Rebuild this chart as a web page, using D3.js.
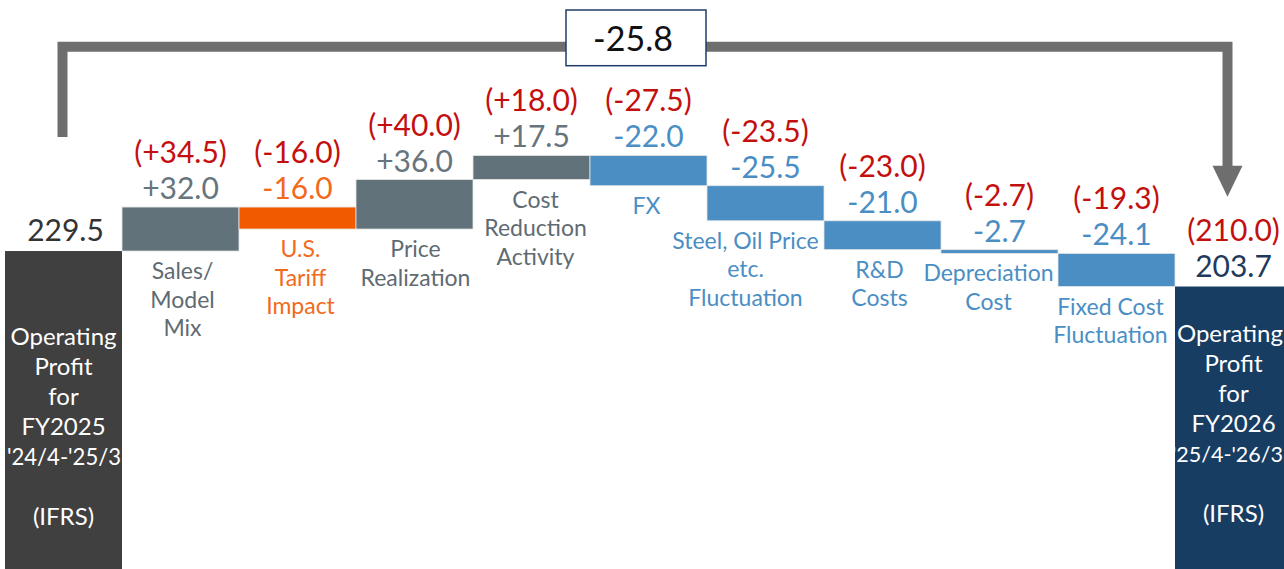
<!DOCTYPE html>
<html>
<head>
<meta charset="utf-8">
<script src="https://cdn.jsdelivr.net/npm/d3@7/dist/d3.min.js"></script>
<style>
  html, body { margin: 0; padding: 0; background: #fff; }
  svg { display: block; font-family: Lato, "Noto Sans", sans-serif; font-weight: 400; }
</style>
</head>
<body>
<svg id="chart" width="1284" height="569"></svg>
<script>
// ---------------- DATA ----------------
const categories = ["FY2025", "Sales/Model Mix", "U.S. Tariff Impact", "Price Realization",
  "Cost Reduction Activity", "FX", "Steel, Oil Price etc. Fluctuation", "R&D Costs",
  "Depreciation Cost", "Fixed Cost Fluctuation", "FY2026"];
const values = [229.5, 32.0, -16.0, 36.0, 17.5, -22.0, -25.5, -21.0, -2.7, -24.1, 203.7];
const forecastValues = [null, 34.5, -16.0, 40.0, 18.0, -27.5, -23.5, -23.0, -2.7, -19.3, 210.0];
const kinds = ["total", "pos", "tariff", "pos", "pos", "neg", "neg", "neg", "neg", "neg", "total2"];
const categoryLines = [
  ["Operating", "Profit", "for", "FY2025", "'24/4-'25/3", "", "(IFRS)"],
  ["Sales/", "Model", "Mix"],
  ["U.S.", "Tariff", "Impact"],
  ["Price", "Realization"],
  ["Cost", "Reduction", "Activity"],
  ["FX"],
  ["Steel, Oil Price", "etc.", "Fluctuation"],
  ["R&D", "Costs"],
  ["Depreciation", "Cost"],
  ["Fixed Cost", "Fluctuation"],
  ["Operating", "Profit", "for", "FY2026", "('25/4-'26/3", "", "(IFRS)"]
];
const totalChange = -25.8;

// ---------------- STYLE ----------------
const barColor = { total: "#404040", pos: "#62727b", tariff: "#f25a00", neg: "#4a8ec4", total2: "#173d63" };
const valueColor = { total: "#333333", pos: "#66747d", tariff: "#f26a1b", neg: "#4a8ec4", total2: "#1f3a5c" };
const labelColor = { pos: "#5f6b73", tariff: "#f26a1b", neg: "#4a8ec4" };
const red = "#c40f0f";
const bracketColor = "#6e6e6e";
// horizontal nudges of the category text boxes (layout only)
const labelNudge = [0, 2, 3, 1, 4, -2, -20, -3, -11, -6, 0];

// ---------------- LAYOUT ----------------
const svg = d3.select("#chart");
const W = 1284, H = 569;

const x = d3.scaleBand().domain(categories).range([5, 5 + 117 * categories.length]).padding(0);
const y = d3.scaleLinear().domain([0, 320]).range([566.6, 566.6 - 320 * 1.375]);

// waterfall computation
let running = 0;
const bars = categories.map((c, i) => {
  const v = values[i];
  let y0, y1;
  if (kinds[i].startsWith("total")) { y0 = 0; y1 = v; running = v; }
  else { y0 = running; y1 = running + v; running = y1; }
  return { cat: c, i, v, lo: Math.min(y0, y1), hi: Math.max(y0, y1), kind: kinds[i], fc: forecastValues[i] };
});

const fmt = v => (v > 0 ? "+" : "") + v.toFixed(1);
const fmtTotal = v => v.toFixed(1);
const fmtFc = (v, total) => "(" + (total ? v.toFixed(1) : (v > 0 ? "+" : "") + v.toFixed(1)) + ")";

// bars
svg.append("g").selectAll("rect").data(bars).join("rect")
  .attr("x", d => x(d.cat))
  .attr("y", d => y(d.hi))
  .attr("width", x.bandwidth())
  .attr("height", d => d.kind.startsWith("total") ? (H - y(d.hi) + 5) : Math.max(1, y(d.lo) - y(d.hi)))
  .attr("fill", d => barColor[d.kind])
  .attr("stroke", d => d.kind.startsWith("total") ? "none" : "#e6e6e6")
  .attr("stroke-width", 0.8);

// value labels
const valueFont = 30;
svg.append("g").selectAll("text").data(bars).join("text")
  .attr("x", d => x(d.cat) + x.bandwidth() / 2 + (d.kind === "total" ? 2 : 0))
  .attr("y", d => y(d.hi) - (d.kind.startsWith("total") ? 10 : 8))
  .attr("text-anchor", "middle")
  .attr("font-size", valueFont)
  .attr("fill", d => valueColor[d.kind])
  .text(d => d.kind.startsWith("total") ? fmtTotal(d.v) : fmt(d.v));

// forecast labels (red, in parentheses)
svg.append("g").selectAll("text").data(bars.filter(d => d.fc !== null)).join("text")
  .attr("x", d => x(d.cat) + x.bandwidth() / 2)
  .attr("y", d => y(d.hi) - (d.kind.startsWith("total") ? 10 : 8) - 36)
  .attr("text-anchor", "middle")
  .attr("font-size", valueFont)
  .attr("fill", red)
  .text(d => fmtFc(d.fc, d.kind.startsWith("total")));

// category labels below change bars
const catFont = 23, lineH = 28.5;
bars.filter(d => !d.kind.startsWith("total")).forEach(d => {
  const cx = x(d.cat) + x.bandwidth() / 2 + labelNudge[d.i];
  const t = svg.append("text")
    .attr("x", cx)
    .attr("y", y(d.lo) + 28)
    .attr("text-anchor", "middle")
    .attr("font-size", catFont)
    .attr("fill", labelColor[d.kind]);
  categoryLines[d.i].forEach((ln, k) => {
    t.append("tspan").attr("x", cx).attr("dy", k === 0 ? 0 : lineH).text(ln);
  });
});

// labels inside total bars (one text element per line so each can be kept inside the canvas)
bars.filter(d => d.kind.startsWith("total")).forEach(d => {
  const cx = x(d.cat) + x.bandwidth() / 2;
  const y0 = d.kind === "total" ? 345 : 342;
  categoryLines[d.i].forEach((ln, k) => {
    if (!ln) return;
    const t = svg.append("text")
      .attr("y", y0 + k * 30)
      .attr("font-size", 24)
      .attr("fill", "#ffffff")
      .text(ln);
    if (k === 4 && d.kind === "total") {
      const left = x(d.cat) + 2;
      const right = x(d.cat) + x.bandwidth() - 1;
      t.attr("x", left).attr("text-anchor", "start").attr("font-size", 23)
        .attr("textLength", right - left).attr("lengthAdjust", "spacingAndGlyphs");
      return;
    }
    if (k === 4) t.attr("font-size", 21.5);
    t.attr("x", cx).attr("text-anchor", "middle");
    const w = t.node().getComputedTextLength();
    if (cx + w / 2 > W - 1) {
      t.attr("x", W - 1).attr("text-anchor", "end");
    }
  });
});

// bracket with arrow
const first = bars[0], last = bars[bars.length - 1];
const lx = x(first.cat) + x.bandwidth() / 2 - 1;
const rx = x(last.cat) + x.bandwidth() / 2 - 6;
const topY = 46.7;
svg.append("path")
  .attr("d", `M${lx},137 L${lx},${topY} L${rx},${topY} L${rx},168`)
  .attr("fill", "none")
  .attr("stroke", bracketColor)
  .attr("stroke-width", 10)
  .attr("stroke-linejoin", "miter");
svg.append("path")
  .attr("d", `M${rx - 15},165.7 L${rx + 15},165.7 L${rx},196.7 Z`)
  .attr("fill", bracketColor);

// total change box
const bx = 566, bw = 140;
svg.append("rect")
  .attr("x", bx).attr("y", 10).attr("width", bw).attr("height", 55.7)
  .attr("fill", "#fff").attr("stroke", "#1f3d6a").attr("stroke-width", 1.5);
svg.append("text")
  .attr("x", bx + bw / 2 - 3).attr("y", 50.5)
  .attr("text-anchor", "middle")
  .attr("font-size", 34)
  .attr("fill", "#111")
  .text(totalChange.toFixed(1));
</script>
</body>
</html>
